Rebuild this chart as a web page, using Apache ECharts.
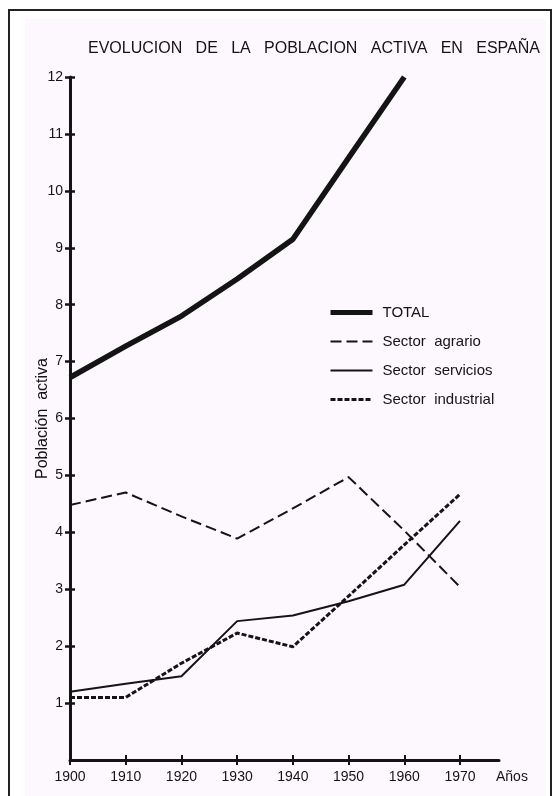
<!DOCTYPE html>
<html>
<head>
<meta charset="utf-8">
<script src="https://cdn.jsdelivr.net/npm/echarts@6/dist/echarts.min.js"></script>
<style>
  html, body { margin: 0; padding: 0; background: #fff; }
  #chart { width: 560px; height: 796px; }
</style>
</head>
<body>
<div id="chart"></div>
<script>
// data (millions)
var years = [1900, 1910, 1920, 1930, 1940, 1950, 1960, 1970];
var total = [6.72, 7.27, 7.8, 8.45, 9.15, 10.58, 12.0];
var agrario = [4.48, 4.7, 4.28, 3.89, 4.42, 4.97, 4.03, 3.04];
var servicios = [1.2, 1.34, 1.47, 2.44, 2.54, 2.79, 3.08, 4.2];
var industrial = [1.1, 1.1, 1.7, 2.23, 1.99, 2.88, 3.78, 4.67];
var yTicks = [1, 2, 3, 4, 5, 6, 7, 8, 9, 10, 11, 12];

var seriesNames = ["TOTAL", "Sector  agrario", "Sector  servicios", "Sector  industrial"];
var lineWidths = [5.5, 2, 2, 3];
var dashes = ["solid", [11, 5], "solid", [5, 2]];

function pairs(vals) {
    return vals.map(function (v, i) { return [years[i], v]; });
}

var ink = "#141414";
var font = "'Liberation Sans', Arial, sans-serif";

function lineSeries(i, vals) {
    return {
        name: seriesNames[i],
        type: "line",
        data: pairs(vals),
        symbol: "none",
        itemStyle: { color: ink },
        lineStyle: { color: ink, width: lineWidths[i], type: dashes[i], join: "round" }
    };
}

var myChart = echarts.init(document.getElementById("chart"));

var option = {
    backgroundColor: "#fff",
    animation: false,
    textStyle: { fontFamily: font, color: ink },
    graphic: [
        {
            type: "rect", z: -20, silent: true,
            shape: { x: 9, y: 10, width: 542, height: 800 },
            style: { fill: "#ffffff", stroke: "#222", lineWidth: 2 }
        },
        {
            type: "rect", z: -19, silent: true,
            shape: { x: 25, y: 19, width: 521, height: 777 },
            style: { fill: "#fdf8fd" }
        }
    ],
    title: {
        text: "EVOLUCION   DE   LA   POBLACION   ACTIVA   EN   ESPAÑA",
        left: 83,
        top: 36,
        textStyle: { fontFamily: font, fontSize: 16, fontWeight: "normal", color: ink }
    },
    legend: {
        left: 328,
        top: 305,
        padding: 0,
        orient: "vertical",
        itemWidth: 42,
        itemHeight: 14,
        itemGap: 14,
        selectedMode: false,
        data: seriesNames.map(function (n, i) {
            return { name: n, lineStyle: { width: Math.min(lineWidths[i], 5), type: dashes[i] } };
        }),
        itemStyle: { opacity: 0 },
        textStyle: { fontFamily: font, fontSize: 15, lineHeight: 14, color: ink, padding: [0, 0, 0, 5] }
    },
    grid: { left: 70, right: 61, top: 77, bottom: 36 },
    xAxis: [
        {
            type: "value",
            min: 1900,
            max: 1977,
            interval: 10,
            name: "Años",
            nameLocation: "end",
            nameGap: -3,
            nameTextStyle: { fontFamily: font, fontSize: 14, color: ink, align: "left", verticalAlign: "top", padding: [10, 0, 0, 0] },
            splitLine: { show: false },
            axisLine: { lineStyle: { color: ink, width: 3 } },
            axisTick: { customValues: years, length: 5, lineStyle: { color: ink, width: 2 } },
            axisLabel: {
                customValues: years, margin: 10, fontFamily: font, fontSize: 14, color: ink,
                formatter: function (v) { return String(v); }
            }
        },
        {
            type: "value",
            min: 1900,
            max: 1977,
            position: "bottom",
            splitLine: { show: false },
            axisLine: { show: false },
            axisTick: { customValues: years, inside: true, length: 5, lineStyle: { color: ink, width: 2 } },
            axisLabel: { show: false }
        }
    ],
    yAxis: [
        {
            type: "value",
            min: 0,
            max: 12,
            interval: 1,
            name: "Población  activa",
            nameLocation: "middle",
            nameGap: 19,
            nameMoveOverlap: false,
            nameTextStyle: { fontFamily: font, fontSize: 16, color: ink },
            splitLine: { show: false },
            axisLine: { lineStyle: { color: ink, width: 3 } },
            axisTick: { customValues: yTicks, length: 5, lineStyle: { color: ink, width: 2.5 } },
            axisLabel: { customValues: yTicks, margin: 7, fontFamily: font, fontSize: 14, color: ink }
        },
        {
            type: "value",
            min: 0,
            max: 12,
            position: "left",
            offset: 0,
            splitLine: { show: false },
            axisLine: { show: false },
            axisTick: { customValues: yTicks, inside: true, length: 5, lineStyle: { color: ink, width: 2.5 } },
            axisLabel: { show: false }
        }
    ],
    series: [
        lineSeries(0, total),
        lineSeries(1, agrario),
        lineSeries(2, servicios),
        lineSeries(3, industrial)
    ]
};

myChart.setOption(option);
</script>
</body>
</html>
